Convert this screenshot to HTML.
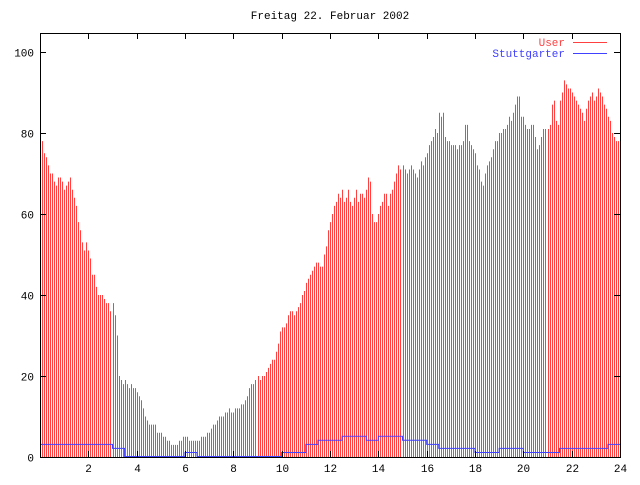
<!DOCTYPE html>
<html><head><meta charset="utf-8"><style>
body{margin:0;background:#fff}
svg text{font-family:"Liberation Mono",monospace;font-size:11px}
</style></head><body>
<svg id="chart" width="640" height="480">
<text x="330" y="19" text-anchor="middle">Freitag 22. Februar 2002</text>
<g id="bars"></g>
<polyline id="stline" fill="none" stroke="#4040ff" stroke-width="1"/>
<rect x="40.5" y="33.5" width="580" height="424" fill="none" stroke="#000"/>
<g id="axes"></g>
<text x="565" y="46" text-anchor="end" fill="#ff4040">User</text>
<line x1="573" y1="42.5" x2="607" y2="42.5" stroke="#ff4040"/>
<text x="565" y="57" text-anchor="end" fill="#4040ff">Stuttgarter</text>
<line x1="573" y1="53.5" x2="607" y2="53.5" stroke="#4040ff"/>
</svg>
<script>
const userValues=[
78,78,75,74,72,70,70,68,67,69,69,68,
66,67,68,69,66,64,62,58,56,53,51,53,
51,49,45,45,42,40,40,40,39,38,38,36,
38,35,30,20,19,18,19,18,17,18,17,17,
16,15,14,12,10,9,8,8,8,8,6,6,
6,5,5,4,4,3,3,3,3,4,4,5,
5,5,4,4,4,4,4,4,5,5,5,6,
6,7,8,8,9,10,10,10,11,11,12,11,
11,12,12,12,13,13,14,15,17,18,18,19,
20,19,20,20,21,22,23,24,24,26,28,31,
32,32,33,35,36,36,35,36,37,38,40,41,
43,44,45,46,47,48,48,47,47,50,52,56,
58,60,62,63,65,64,66,63,64,66,63,62,
64,66,63,65,65,64,66,69,68,60,58,58,
60,62,63,65,65,62,65,66,68,70,72,71,
72,71,70,71,72,71,70,69,71,73,72,74,
75,77,78,79,81,80,85,84,85,79,78,78,
77,77,77,76,77,77,78,82,82,78,77,76,
75,72,71,68,67,70,72,73,74,76,78,78,
80,80,81,81,82,84,83,85,87,89,89,84,
84,82,81,81,82,82,79,76,77,79,81,81,
81,82,87,88,83,82,88,90,93,92,91,91,
90,89,88,87,86,85,83,86,88,89,90,88,
89,91,90,89,87,86,84,83,80,79,78,78];
const stuttgarterValues=[3,3,3,3,3,3,2,0,0,0,0,0,1,0,0,0,0,0,0,0,1,1,3,4,4,5,5,4,5,5,4,4,3,2,2,2,1,1,2,2,1,1,1,2,2,2,2,3];
const xTicks=[2,4,6,8,10,12,14,16,18,20,22,24];
const yTicks=[0,20,40,60,80,100];
const NS="http://www.w3.org/2000/svg";
const X=h=>40+h*580/24, Y=v=>457-v*4.05;
const bars=document.getElementById('bars');
userValues.forEach((v,i)=>{
 const l=document.createElementNS(NS,'line');
 const x=Math.round(X(i/12))+0.5;
 l.setAttribute('x1',x);l.setAttribute('x2',x);l.setAttribute('y1',457);l.setAttribute('y2',Y(v));
 l.setAttribute('stroke','#ff4040');
 
 
 bars.appendChild(l);
});
let pts=[];
stuttgarterValues.forEach((v,i)=>{pts.push(X(i/2)+','+(Y(v)-0.5));pts.push(X((i+1)/2)+','+(Y(v)-0.5));});
document.getElementById('stline').setAttribute('points',pts.join(' '));
const ax=document.getElementById('axes');
yTicks.forEach(t=>{
 const y=Math.round(Y(t))+0.5;
 const tl=document.createElementNS(NS,'path');
 tl.setAttribute('d',`M40 ${y}h6M620 ${y}h-6`);tl.setAttribute('stroke','#000');
 
 
 ax.appendChild(tl);
 const tx=document.createElementNS(NS,'text');
 tx.setAttribute('x',34);tx.setAttribute('y',y+4);tx.setAttribute('text-anchor','end');tx.textContent=t;
 
 
 ax.appendChild(tx);
});
xTicks.forEach(t=>{
 const x=Math.round(X(t))+0.5;
 const tl=document.createElementNS(NS,'path');
 tl.setAttribute('d',`M${x} 457v-6M${x} 33v6`);tl.setAttribute('stroke','#000');
 
 
 ax.appendChild(tl);
 const tx=document.createElementNS(NS,'text');
 tx.setAttribute('x',x);tx.setAttribute('y',472);tx.setAttribute('text-anchor','middle');tx.textContent=t;
 
 
 ax.appendChild(tx);
});
</script>
</body></html>
